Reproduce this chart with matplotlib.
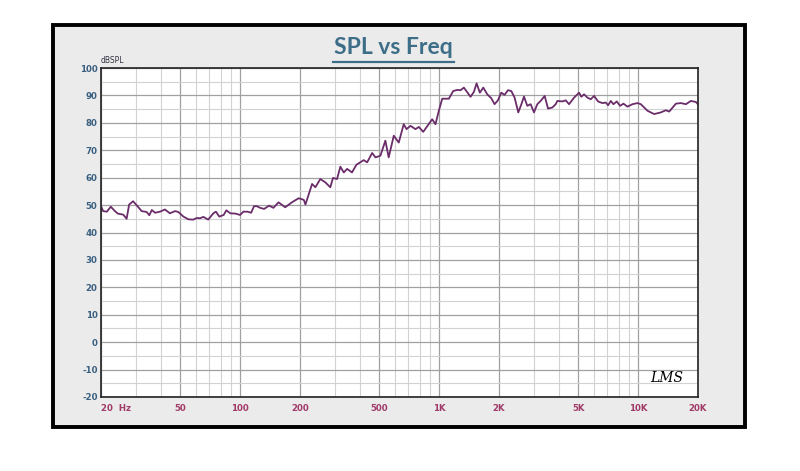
import matplotlib
matplotlib.use("Agg")
import matplotlib.pyplot as plt
from matplotlib.patches import Rectangle
from matplotlib.ticker import FixedLocator, NullFormatter

plt.rcParams["axes.unicode_minus"] = False

freq_hz = [20, 20.5, 21.4, 22.4, 23.5, 24.3, 25.9, 26.9, 27.7, 29.0, 30.5, 32.0, 33.9, 35.0,
           36.0, 37.4, 39.6, 41.9, 44.4, 47.1, 48.9, 51.9, 55.0, 58.2, 60.6, 63.0, 65.4, 69.1,
           73.4, 75.6, 78.6, 82.7, 85.3, 89.3, 94.7, 100, 103.9, 108.7, 113.6, 117.5, 121.3, 126,
           132, 140, 147, 156, 168.6, 182, 197, 209, 213, 230, 239, 253, 268, 284, 293, 307,
           319, 332, 345, 365, 384, 402, 418, 435, 461, 479, 507, 537, 558, 592, 627, 664,
           686, 718, 761, 791, 832, 871, 923, 959, 997, 1037, 1120, 1177, 1233, 1282, 1332,
           1439, 1496, 1543, 1603, 1667, 1746, 1828, 1900, 1975, 2053, 2134, 2218, 2305, 2396,
           2500, 2598, 2670, 2775, 2884, 2998, 3116, 3239, 3393, 3527, 3709, 3855, 3930, 4164,
           4328, 4498, 4767, 5051, 5188, 5351, 5562, 5781, 6010, 6295, 6618, 6879, 7068, 7290,
           7516, 7812, 8120, 8440, 8840, 9370, 9929, 10320, 11150, 12040, 13010, 13790, 14330,
           15490, 16410, 17390, 18420, 19520, 20000]
spl_db = [49.6, 47.8, 47.6, 49.4, 47.8, 46.9, 46.5, 45.0, 50.2, 51.4, 49.6, 47.8, 47.5, 46.3,
          48.2, 47.2, 47.6, 48.4, 47.0, 47.8, 47.5, 45.8, 44.8, 44.7, 45.3, 45.2, 45.7, 44.7,
          47.0, 47.6, 45.8, 46.4, 48.1, 47.0, 46.9, 46.4, 47.6, 47.6, 47.2, 49.6, 49.6, 49.0,
          48.6, 49.8, 49.0, 51.0, 49.2, 51.0, 52.5, 51.9, 50.2, 57.7, 56.5, 59.5, 58.3, 56.5, 59.9, 59.5,
          64.0, 61.9, 63.2, 61.9, 64.7, 65.6, 66.4, 65.6, 69.0, 67.4, 68.0, 73.5, 67.4, 75.3, 72.8, 79.5,
          77.7, 78.9, 77.7, 78.5, 76.7, 78.7, 81.3, 79.5, 84.4, 88.8, 88.8, 91.6, 92.0, 91.9, 92.85,
          89.5, 91.3, 94.4, 91.0, 92.85, 90.4, 89.0, 86.8, 88.2, 91.0, 90.2, 91.9, 91.6, 89.2,
          83.8, 87.0, 89.6, 86.2, 86.8, 83.8, 86.8, 88.0, 89.8, 85.2, 85.6, 86.8, 88.0, 87.8,
          88.2, 86.8, 89.2, 91.0, 89.5, 90.4, 89.2, 88.6, 89.8, 87.8, 87.2, 87.4, 86.4, 88.0,
          86.8, 87.8, 86.2, 87.0, 85.9, 86.8, 87.2, 86.8, 84.4, 83.2, 83.8, 84.6, 84.1,
          87.0, 87.2, 86.8, 88.0, 87.6, 86.8]

x_ticks = [20, 50, 100, 200, 500, 1000, 2000, 5000, 10000, 20000]
x_labels = ["20  Hz", "50", "100", "200", "500", "1K", "2K", "5K", "10K", "20K"]
y_ticks = list(range(-20, 101, 10))

W, H = 800, 471
fig = plt.figure(figsize=(W / 100, H / 100), dpi=100)
fig.patch.set_facecolor("white")

# outer frame
frame = Rectangle((53 / W, 1 - 427 / H), 692 / W, 402 / H, transform=fig.transFigure,
                  facecolor="#ebebeb", edgecolor="black", linewidth=2.8, zorder=-5)
fig.add_artist(frame)

ax = fig.add_axes([101 / W, 1 - 397 / H, 597 / W, 329 / H])
ax.set_zorder(2)
ax.set_facecolor("white")
ax.set_xscale("log")
ax.set_xlim(20, 20000)
ax.set_ylim(-20, 100)

minor_x = []
for dec in [10, 100, 1000, 10000]:
    for m in range(1, 10):
        v = m * dec
        if 20 <= v <= 20000 and v not in x_ticks:
            minor_x.append(v)
ax.xaxis.set_major_locator(FixedLocator(x_ticks))
ax.xaxis.set_minor_locator(FixedLocator(minor_x))
ax.set_xticklabels(x_labels)
ax.xaxis.set_minor_formatter(NullFormatter())
ax.yaxis.set_major_locator(FixedLocator(y_ticks))
ax.yaxis.set_minor_locator(FixedLocator([v + 5 for v in y_ticks[:-1]]))

ax.grid(which="major", color="#a0a0a0", linewidth=0.9)
ax.grid(which="minor", color="#d2d2d2", linewidth=0.8)
ax.set_axisbelow(True)

ax.tick_params(which="both", length=0)
ax.tick_params(axis="x", pad=5, labelsize=6.2, labelcolor="#a03a68")
ax.tick_params(axis="y", pad=2.5, labelsize=6.2, labelcolor="#3a5f80")
for lab in ax.get_xticklabels() + ax.get_yticklabels():
    lab.set_fontweight("bold")
    lab.set_family("DejaVu Sans")
first = ax.get_xticklabels()[0]
first.set_horizontalalignment("left")
first.set_x(20)

for s in ax.spines.values():
    s.set_color("#222222")
    s.set_linewidth(1.2)

ax.plot(freq_hz, spl_db, color="#6a2d6a", linewidth=1.3)

ax.text(0.0, 1.01, "dBSPL", transform=ax.transAxes, fontsize=5.5, color="#333344",
        family="DejaVu Sans", ha="left", va="bottom")
ax.text(0.975, 0.035, "LMS", transform=ax.transAxes, fontsize=10, style="italic",
        family="DejaVu Serif", ha="right", va="bottom", color="black")

fig.text(0.492, 1 - 48 / H, "SPL vs Freq", ha="center", va="center", fontsize=16.5,
         fontweight="bold", color="#3d6e88", family="Lato")
fig.add_artist(plt.Line2D([333 / W, 454 / W], [1 - 62 / H, 1 - 62 / H], color="#3d6e88",
                          linewidth=1.6, transform=fig.transFigure))

fig.savefig("out.png", dpi=100)
